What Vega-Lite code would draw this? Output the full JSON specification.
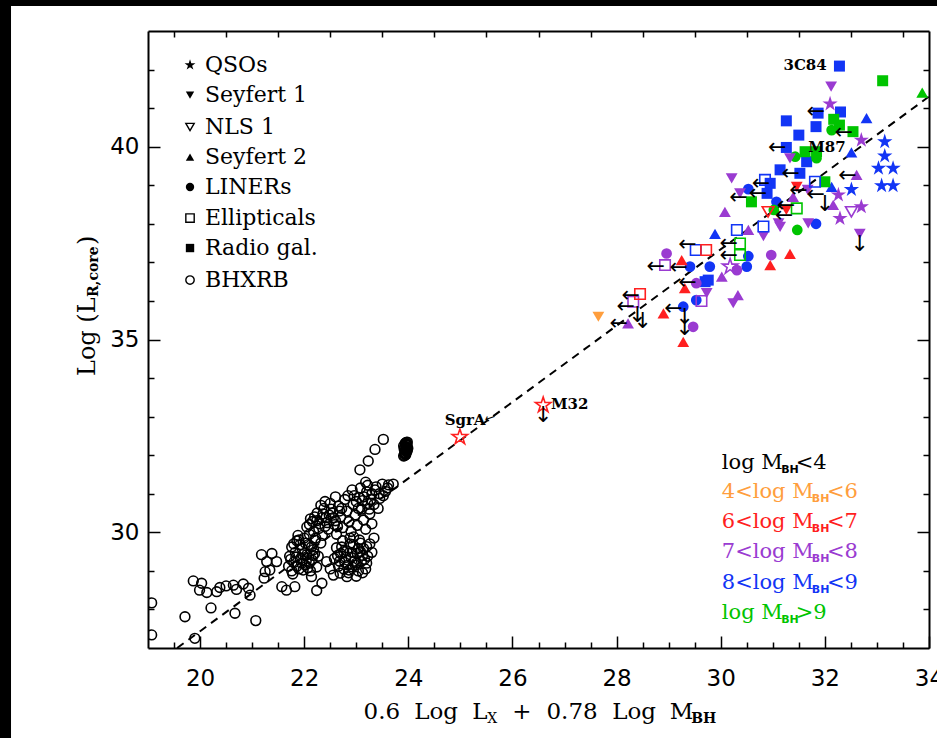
{
"$schema":"https://vega.github.io/schema/vega-lite/v6.json",
"width":781,"height":617,
"autosize":{"type":"none"},
"padding":{"left":148,"top":31,"right":8,"bottom":90},
"background":"#000000",
"config":{
 "view":{"stroke":null},
 "axis":{"grid":false,"domainColor":"#000000","domainWidth":2,"tickColor":"#000000","tickWidth":1.5,"labelFont":"DejaVu Sans","labelFontSize":23,"labelColor":"#000000","title":null,"labelFlush":false,"labelOverlap":false}
},
"datasets":{
 "fit":[{"x":19.56,"y":27.0},{"x":34.0,"y":41.30}],
 "bh":[
  {"x":19.07,"y":28.17},{"x":19.07,"y":27.34},{"x":19.71,"y":27.81},{"x":19.90,"y":27.25},{"x":19.87,"y":28.74},{"x":20.03,"y":28.68},{"x":19.99,"y":28.50},{"x":20.13,"y":28.44},{"x":20.21,"y":28.04},{"x":20.32,"y":28.46},{"x":20.38,"y":28.57},{"x":20.50,"y":28.61},{"x":20.64,"y":28.63},{"x":20.70,"y":28.52},{"x":20.83,"y":28.66},{"x":20.93,"y":28.55},{"x":20.96,"y":28.37},{"x":20.67,"y":27.90},{"x":21.07,"y":27.71},
  {"x":21.18,"y":29.42},{"x":21.38,"y":29.45},{"x":21.28,"y":29.24},{"x":21.25,"y":28.98},{"x":21.23,"y":28.81},{"x":21.34,"y":29.02},{"x":21.47,"y":29.24},{"x":21.57,"y":28.59},{"x":21.66,"y":28.50},{"x":21.82,"y":28.59},
  {"x":21.70,"y":29.12},{"x":21.72,"y":29.38},{"x":21.76,"y":29.62},{"x":21.80,"y":29.22},{"x":21.83,"y":29.48},{"x":21.86,"y":29.78},{"x":21.90,"y":29.05},{"x":21.93,"y":29.32},{"x":21.96,"y":29.58},{"x":22.00,"y":29.85},{"x":22.02,"y":29.15},{"x":22.05,"y":29.42},{"x":22.08,"y":29.68},{"x":22.12,"y":29.00},{"x":22.15,"y":29.28},{"x":22.18,"y":29.55},{"x":22.21,"y":29.80},{"x":22.24,"y":29.10},{"x":22.27,"y":29.38},{"x":21.78,"y":28.92},{"x":21.88,"y":29.92},{"x":22.10,"y":29.95},{"x":21.95,"y":29.20},{"x":22.20,"y":29.45},
  {"x":21.74,"y":29.30},{"x":21.84,"y":29.36},{"x":21.92,"y":29.68},{"x":22.04,"y":29.26},{"x":22.14,"y":29.62},{"x":21.98,"y":29.02},{"x":22.10,"y":29.20},{"x":21.80,"y":29.70},
  {"x":21.76,"y":29.00},{"x":21.86,"y":29.12},{"x":21.97,"y":29.42},{"x":22.07,"y":29.08},{"x":22.17,"y":29.40},{"x":21.90,"y":29.80},{"x":22.02,"y":29.72},
  {"x":22.14,"y":28.85},{"x":22.24,"y":28.49},{"x":22.34,"y":28.68},{"x":22.43,"y":29.24},{"x":22.56,"y":28.89},{"x":22.69,"y":28.94},{"x":22.82,"y":28.85},{"x":22.50,"y":29.05},
  {"x":22.05,"y":30.14},{"x":22.12,"y":30.35},{"x":22.18,"y":30.02},{"x":22.25,"y":30.50},{"x":22.30,"y":30.22},{"x":22.35,"y":29.92},{"x":22.38,"y":30.62},{"x":22.42,"y":30.38},{"x":22.46,"y":30.08},{"x":22.50,"y":30.75},{"x":22.55,"y":30.50},{"x":22.58,"y":30.20},{"x":22.62,"y":29.95},{"x":22.66,"y":30.68},{"x":22.70,"y":30.40},{"x":22.74,"y":30.12},{"x":22.78,"y":30.85},{"x":22.82,"y":30.55},{"x":22.86,"y":30.28},{"x":22.90,"y":30.02},{"x":22.94,"y":30.72},{"x":22.98,"y":30.45},{"x":23.02,"y":30.18},{"x":23.06,"y":30.90},{"x":23.10,"y":30.60},{"x":23.14,"y":30.32},{"x":23.18,"y":30.08},{"x":23.22,"y":30.75},{"x":23.26,"y":30.48},{"x":23.30,"y":30.22},{"x":22.32,"y":29.72},{"x":22.22,"y":29.85},{"x":22.60,"y":30.92},{"x":22.40,"y":30.80},
  {"x":22.10,"y":30.20},{"x":22.20,"y":30.40},{"x":22.28,"y":30.10},{"x":22.36,"y":30.48},{"x":22.44,"y":30.25},{"x":22.52,"y":30.60},{"x":22.60,"y":30.30},{"x":22.68,"y":30.55},{"x":22.32,"y":30.70},
  {"x":22.16,"y":30.28},{"x":22.24,"y":30.30},{"x":22.40,"y":30.15},{"x":22.48,"y":30.45},{"x":22.56,"y":30.38},{"x":22.64,"y":30.15},{"x":22.72,"y":30.62},{"x":22.34,"y":30.38},
  {"x":22.58,"y":29.32},{"x":22.62,"y":29.60},{"x":22.66,"y":29.12},{"x":22.70,"y":29.45},{"x":22.74,"y":29.78},{"x":22.78,"y":29.22},{"x":22.82,"y":29.52},{"x":22.86,"y":29.02},{"x":22.90,"y":29.35},{"x":22.94,"y":29.68},{"x":22.98,"y":29.15},{"x":23.02,"y":29.45},{"x":23.06,"y":29.80},{"x":23.10,"y":29.25},{"x":23.14,"y":29.58},{"x":23.18,"y":29.05},{"x":23.22,"y":29.38},{"x":23.26,"y":29.70},{"x":23.30,"y":29.48},{"x":22.85,"y":28.95},{"x":23.00,"y":28.86},{"x":23.20,"y":29.63},{"x":22.95,"y":29.88},{"x":23.12,"y":28.95},{"x":23.34,"y":29.85},
  {"x":22.64,"y":29.40},{"x":22.72,"y":29.62},{"x":22.80,"y":29.35},{"x":22.88,"y":29.70},{"x":22.96,"y":29.25},{"x":23.04,"y":29.58},{"x":23.12,"y":29.40},{"x":23.20,"y":29.20},{"x":22.76,"y":29.05},{"x":23.08,"y":29.72},{"x":22.92,"y":29.10},
  {"x":22.68,"y":29.25},{"x":22.76,"y":29.50},{"x":22.84,"y":29.15},{"x":22.92,"y":29.48},{"x":23.00,"y":29.20},{"x":23.08,"y":29.50},{"x":23.16,"y":29.30},{"x":22.88,"y":29.85},{"x":23.04,"y":29.00},
  {"x":22.84,"y":30.95},{"x":22.92,"y":31.10},{"x":23.00,"y":30.80},{"x":23.08,"y":31.15},{"x":23.15,"y":30.92},{"x":23.22,"y":31.22},{"x":23.30,"y":31.00},{"x":23.38,"y":31.18},{"x":23.45,"y":30.88},{"x":23.50,"y":31.25},{"x":23.56,"y":31.06},{"x":23.62,"y":31.23},{"x":23.71,"y":31.25},{"x":23.34,"y":30.72},{"x":23.42,"y":30.62},{"x":23.25,"y":30.60},{"x":23.52,"y":30.95},{"x":23.18,"y":31.30},
  {"x":22.96,"y":30.95},{"x":23.04,"y":30.62},{"x":23.12,"y":30.82},{"x":23.20,"y":31.05},{"x":23.28,"y":30.85},{"x":23.36,"y":31.10},{"x":23.44,"y":31.00},{"x":23.60,"y":31.15},
  {"x":23.07,"y":31.62},{"x":23.23,"y":31.85},{"x":23.36,"y":32.15},{"x":23.52,"y":32.41},
  {"x":23.91,"y":31.98},{"x":23.93,"y":32.05},{"x":23.95,"y":32.12},{"x":23.96,"y":32.20},{"x":23.97,"y":32.27},{"x":23.98,"y":32.34},{"x":23.92,"y":32.16},{"x":23.97,"y":32.09},{"x":23.94,"y":32.31},{"x":23.95,"y":32.01},{"x":23.91,"y":32.24},{"x":23.99,"y":32.18},
  {"x":23.93,"y":31.99},{"x":23.94,"y":32.03},{"x":23.94,"y":32.07},{"x":23.95,"y":32.10},{"x":23.95,"y":32.14},{"x":23.96,"y":32.17},{"x":23.96,"y":32.22},{"x":23.97,"y":32.25},{"x":23.97,"y":32.29},{"x":23.96,"y":32.33},{"x":23.93,"y":32.20},{"x":23.98,"y":32.13}
 ],
 "agn":[
  {"x":32.28,"y":42.09,"t":"Radio gal.","m":"8-9"},{"x":32.30,"y":40.90,"t":"Radio gal.","m":"8-9"},{"x":31.87,"y":40.87,"t":"Radio gal.","m":"8-9"},{"x":31.83,"y":40.52,"t":"Radio gal.","m":"8-9"},{"x":31.26,"y":40.67,"t":"Radio gal.","m":"8-9"},{"x":31.50,"y":40.30,"t":"Radio gal.","m":"8-9"},{"x":31.26,"y":39.98,"t":"Radio gal.","m":"8-9"},{"x":31.65,"y":39.61,"t":"Radio gal.","m":"8-9"},{"x":31.14,"y":39.40,"t":"Radio gal.","m":"8-9"},{"x":31.52,"y":39.31,"t":"Radio gal.","m":"8-9"},{"x":30.95,"y":39.05,"t":"Radio gal.","m":"8-9"},{"x":30.89,"y":38.79,"t":"Radio gal.","m":"8-9"},{"x":29.70,"y":36.50,"t":"Radio gal.","m":"8-9"},{"x":29.76,"y":36.54,"t":"Radio gal.","m":"8-9"},
  {"x":32.80,"y":40.74,"t":"Seyfert 2","m":"8-9"},{"x":32.51,"y":39.85,"t":"Seyfert 2","m":"8-9"},{"x":32.13,"y":38.96,"t":"Seyfert 2","m":"8-9"},{"x":29.89,"y":37.74,"t":"Seyfert 2","m":"8-9"},
  {"x":33.15,"y":40.13,"t":"QSOs","m":"8-9"},{"x":33.15,"y":39.76,"t":"QSOs","m":"8-9"},{"x":33.03,"y":39.44,"t":"QSOs","m":"8-9"},{"x":33.31,"y":39.44,"t":"QSOs","m":"8-9"},{"x":33.09,"y":38.99,"t":"QSOs","m":"8-9"},{"x":33.31,"y":38.99,"t":"QSOs","m":"8-9"},{"x":32.51,"y":38.89,"t":"QSOs","m":"8-9"},
  {"x":31.81,"y":39.09,"t":"Ellipticals","m":"8-9"},{"x":30.85,"y":39.14,"t":"Ellipticals","m":"8-9"},{"x":30.82,"y":37.93,"t":"Ellipticals","m":"8-9"},{"x":30.31,"y":37.84,"t":"Ellipticals","m":"8-9"},{"x":29.52,"y":37.32,"t":"Ellipticals","m":"8-9"},
  {"x":30.53,"y":38.90,"t":"LINERs","m":"8-9"},{"x":31.07,"y":38.57,"t":"LINERs","m":"8-9"},{"x":31.83,"y":38.00,"t":"LINERs","m":"8-9"},{"x":30.53,"y":37.16,"t":"LINERs","m":"8-9"},{"x":30.50,"y":36.89,"t":"LINERs","m":"8-9"},{"x":29.41,"y":36.89,"t":"LINERs","m":"8-9"},{"x":29.79,"y":36.89,"t":"LINERs","m":"8-9"},{"x":29.53,"y":36.02,"t":"LINERs","m":"8-9"},{"x":29.28,"y":35.85,"t":"LINERs","m":"8-9"},
  {"x":33.11,"y":41.71,"t":"Radio gal.","m":"gt9"},{"x":33.87,"y":41.40,"t":"Seyfert 2","m":"gt9"},{"x":32.17,"y":40.71,"t":"Radio gal.","m":"gt9"},{"x":32.28,"y":40.56,"t":"Radio gal.","m":"gt9"},{"x":32.13,"y":40.43,"t":"LINERs","m":"gt9"},{"x":32.54,"y":40.39,"t":"Radio gal.","m":"gt9"},{"x":31.62,"y":39.87,"t":"Radio gal.","m":"gt9"},{"x":31.84,"y":39.87,"t":"Radio gal.","m":"gt9"},{"x":31.43,"y":39.74,"t":"LINERs","m":"gt9"},{"x":31.84,"y":39.70,"t":"LINERs","m":"gt9"},{"x":32.00,"y":39.09,"t":"Radio gal.","m":"gt9"},{"x":30.59,"y":38.57,"t":"Radio gal.","m":"gt9"},{"x":31.02,"y":38.36,"t":"LINERs","m":"gt9"},{"x":31.46,"y":38.40,"t":"Ellipticals","m":"gt9"},{"x":31.47,"y":37.84,"t":"LINERs","m":"gt9"},{"x":30.37,"y":37.49,"t":"Ellipticals","m":"gt9"},{"x":30.37,"y":37.19,"t":"Ellipticals","m":"gt9"},
  {"x":32.12,"y":41.56,"t":"Seyfert 1","m":"7-8"},{"x":32.10,"y":41.11,"t":"QSOs","m":"7-8"},{"x":32.70,"y":40.17,"t":"QSOs","m":"7-8"},{"x":31.33,"y":39.70,"t":"Seyfert 1","m":"7-8"},{"x":32.61,"y":39.27,"t":"Seyfert 2","m":"7-8"},{"x":30.21,"y":39.18,"t":"Seyfert 1","m":"7-8"},{"x":30.37,"y":38.79,"t":"Seyfert 1","m":"7-8"},{"x":30.08,"y":38.31,"t":"Seyfert 2","m":"7-8"},{"x":31.39,"y":38.70,"t":"Seyfert 2","m":"7-8"},{"x":31.67,"y":38.88,"t":"Seyfert 1","m":"7-8"},{"x":32.26,"y":38.75,"t":"QSOs","m":"7-8"},{"x":32.29,"y":38.14,"t":"QSOs","m":"7-8"},{"x":32.70,"y":38.44,"t":"QSOs","m":"7-8"},{"x":32.51,"y":38.31,"t":"NLS 1","m":"7-8"},{"x":32.16,"y":38.49,"t":"Seyfert 2","m":"7-8"},{"x":31.68,"y":38.01,"t":"Seyfert 1","m":"7-8"},{"x":31.11,"y":38.01,"t":"Seyfert 1","m":"7-8"},{"x":32.67,"y":37.74,"t":"Seyfert 1","m":"7-8"},{"x":30.82,"y":37.68,"t":"Seyfert 1","m":"7-8"},{"x":30.53,"y":37.84,"t":"Seyfert 2","m":"7-8"},{"x":31.14,"y":37.92,"t":"Seyfert 1","m":"7-8"},{"x":30.97,"y":37.19,"t":"LINERs","m":"7-8"},{"x":30.18,"y":36.89,"t":"Other","m":"7-8"},{"x":30.31,"y":36.80,"t":"LINERs","m":"7-8"},{"x":28.96,"y":37.23,"t":"LINERs","m":"7-8"},{"x":28.93,"y":36.93,"t":"Ellipticals","m":"7-8"},{"x":30.02,"y":36.63,"t":"Seyfert 2","m":"7-8"},{"x":29.53,"y":36.46,"t":"LINERs","m":"7-8"},{"x":29.73,"y":36.20,"t":"Seyfert 1","m":"7-8"},{"x":30.33,"y":36.15,"t":"Seyfert 2","m":"7-8"},{"x":30.24,"y":35.94,"t":"Seyfert 1","m":"7-8"},{"x":29.63,"y":36.00,"t":"Ellipticals","m":"7-8"},{"x":28.32,"y":35.98,"t":"Ellipticals","m":"7-8"},{"x":28.22,"y":35.42,"t":"Seyfert 2","m":"7-8"},{"x":29.47,"y":35.33,"t":"LINERs","m":"7-8"},
  {"x":31.26,"y":38.36,"t":"Seyfert 1","m":"6-7"},{"x":31.46,"y":38.96,"t":"Seyfert 1","m":"6-7"},{"x":30.91,"y":38.31,"t":"NLS 1","m":"6-7"},{"x":31.33,"y":37.22,"t":"Seyfert 2","m":"6-7"},{"x":30.95,"y":36.93,"t":"Seyfert 2","m":"6-7"},{"x":29.72,"y":37.32,"t":"Ellipticals","m":"6-7"},{"x":29.25,"y":37.06,"t":"Seyfert 2","m":"6-7"},{"x":29.31,"y":36.33,"t":"Seyfert 2","m":"6-7"},{"x":28.45,"y":36.18,"t":"Ellipticals","m":"6-7"},{"x":28.90,"y":35.68,"t":"Seyfert 2","m":"6-7"},{"x":29.28,"y":34.94,"t":"Seyfert 2","m":"6-7"},{"x":24.99,"y":32.47,"t":"Other","m":"6-7"},{"x":26.59,"y":33.30,"t":"Other","m":"6-7"},
  {"x":27.65,"y":35.59,"t":"Seyfert 1","m":"4-6"}
 ],
 "arr":[
  {"x":32.00,"y":40.93},{"x":32.54,"y":40.39},{"x":31.26,"y":39.98},{"x":31.52,"y":39.31},{"x":32.61,"y":39.27},{"x":30.95,"y":39.07},{"x":30.89,"y":38.79},{"x":30.52,"y":38.70},{"x":31.67,"y":38.88},{"x":32.00,"y":38.77},{"x":31.43,"y":38.49},{"x":31.39,"y":38.23},{"x":30.33,"y":37.49},{"x":30.33,"y":37.20},{"x":29.54,"y":37.47},{"x":28.93,"y":36.91},{"x":29.37,"y":36.88},{"x":29.54,"y":36.50},{"x":28.45,"y":36.15},{"x":28.35,"y":35.88},{"x":28.22,"y":35.42},{"x":29.27,"y":35.81}
 ],
 "dn":[
  {"x":32.67,"y":37.74},{"x":32.00,"y":38.77},{"x":28.40,"y":35.90},{"x":28.50,"y":35.75},{"x":29.31,"y":35.85},{"x":29.31,"y":35.55},{"x":26.59,"y":33.30}
 ]
},
"resolve":{"axis":{"x":"independent","y":"independent"}},
"layer":[
 {"data":{"values":[{}]},"mark":{"type":"rect","color":"#ffffff","clip":false},
  "encoding":{"x":{"datum":16.369,"type":"quantitative","scale":{"domain":[19,34],"nice":false,"zero":false},"axis":null},"x2":{"datum":35.5},"y":{"datum":43.648,"type":"quantitative","scale":{"domain":[27,43],"nice":false,"zero":false},"axis":null},"y2":{"datum":24.0}}},
 {"layer":[
  {"data":{"name":"fit"},"mark":{"type":"line","color":"#000000","strokeWidth":2,"strokeDash":[8,6]},
   "encoding":{
    "x":{"field":"x","type":"quantitative","scale":{"domain":[19,34],"nice":false,"zero":false},
     "axis":{"orient":"top","zindex":2,"values":[19.5,20,20.5,21,21.5,22,22.5,23,23.5,24,24.5,25,25.5,26,26.5,27,27.5,28,28.5,29,29.5,30,30.5,31,31.5,32,32.5,33,33.5],
      "tickSize":{"condition":{"test":"datum.value % 2 === 0","value":-12},"value":-6},"labels":false}},
    "y":{"field":"y","type":"quantitative","scale":{"domain":[27,43],"nice":false,"zero":false},
     "axis":{"orient":"left","zindex":2,"values":[28,29,30,31,32,33,34,35,36,37,38,39,40,41,42],
      "tickSize":{"condition":{"test":"datum.value % 5 === 0","value":-12},"value":-6},
      "labelExpr":"datum.value % 5 === 0 ? datum.label : ''","labelPadding":21}}}},
  {"data":{"name":"bh"},"mark":{"type":"point","shape":"circle","filled":false,"color":"#000000","size":95,"strokeWidth":1.6,"opacity":1,"clip":true},
   "encoding":{"x":{"field":"x","type":"quantitative"},"y":{"field":"y","type":"quantitative"}}},
  {"data":{"name":"agn"},"transform":[{"filter":{"not":{"field":"t","oneOf":["NLS 1","Ellipticals","Other"]}}}],
   "mark":{"type":"point","filled":true,"opacity":1},
   "encoding":{"x":{"field":"x","type":"quantitative"},"y":{"field":"y","type":"quantitative"},
    "shape":{"field":"t","type":"nominal","scale":{"domain":["QSOs","Seyfert 1","NLS 1","Seyfert 2","LINERs","Ellipticals","Radio gal.","BHXRB","Other"],"range":["M0,-1L0.2245,-0.309L0.9511,-0.309L0.3633,0.118L0.5878,0.809L0,0.382L-0.5878,0.809L-0.3633,0.118L-0.9511,-0.309L-0.2245,-0.309Z","triangle-down","triangle-down","triangle-up","circle","square","square","circle","M0,-1L0.2245,-0.309L0.9511,-0.309L0.3633,0.118L0.5878,0.809L0,0.382L-0.5878,0.809L-0.3633,0.118L-0.9511,-0.309L-0.2245,-0.309Z"]},"legend":null},
    "size":{"field":"t","type":"nominal","scale":{"type":"ordinal","domain":["QSOs","Seyfert 1","NLS 1","Seyfert 2","LINERs","Ellipticals","Radio gal.","BHXRB","Other"],"range":[260,140,140,140,115,110,121,88,260]},"legend":null},
    "color":{"field":"m","type":"nominal","scale":{"domain":["lt4","4-6","6-7","7-8","8-9","gt9"],"range":["#000000","#FF9E3D","#FF1F1F","#9A3BD1","#1235F5","#00C400"]},"legend":null}}},
  {"data":{"name":"agn"},"transform":[{"filter":{"field":"t","oneOf":["NLS 1","Ellipticals","Other"]}}],
   "mark":{"type":"point","filled":false,"opacity":1,"strokeWidth":1.6},
   "encoding":{"x":{"field":"x","type":"quantitative"},"y":{"field":"y","type":"quantitative"},
    "shape":{"field":"t","type":"nominal","scale":{"domain":["QSOs","Seyfert 1","NLS 1","Seyfert 2","LINERs","Ellipticals","Radio gal.","BHXRB","Other"],"range":["M0,-1L0.2245,-0.309L0.9511,-0.309L0.3633,0.118L0.5878,0.809L0,0.382L-0.5878,0.809L-0.3633,0.118L-0.9511,-0.309L-0.2245,-0.309Z","triangle-down","triangle-down","triangle-up","circle","square","square","circle","M0,-1L0.2245,-0.309L0.9511,-0.309L0.3633,0.118L0.5878,0.809L0,0.382L-0.5878,0.809L-0.3633,0.118L-0.9511,-0.309L-0.2245,-0.309Z"]},"legend":null},
    "size":{"field":"t","type":"nominal","scale":{"type":"ordinal","domain":["QSOs","Seyfert 1","NLS 1","Seyfert 2","LINERs","Ellipticals","Radio gal.","BHXRB","Other"],"range":[260,140,140,140,115,110,121,88,260]},"legend":null},
    "color":{"field":"m","type":"nominal","scale":{"domain":["lt4","4-6","6-7","7-8","8-9","gt9"],"range":["#000000","#FF9E3D","#FF1F1F","#9A3BD1","#1235F5","#00C400"]},"legend":null}}},
  {"data":{"name":"arr"},"mark":{"type":"text","text":"←","font":"DejaVu Sans","fontSize":22,"align":"right","baseline":"middle","color":"#000000"},
   "encoding":{"x":{"field":"x","type":"quantitative"},"y":{"field":"y","type":"quantitative"}}},
  {"data":{"name":"dn"},"mark":{"type":"text","text":"↓","font":"DejaVu Sans","fontSize":22,"align":"center","baseline":"top","color":"#000000"},
   "encoding":{"x":{"field":"x","type":"quantitative"},"y":{"field":"y","type":"quantitative"}}},
  {"data":{"values":[{}]},"layer":[
   {"mark":{"type":"point","shape":"M0,-1L0.2245,-0.309L0.9511,-0.309L0.3633,0.118L0.5878,0.809L0,0.382L-0.5878,0.809L-0.3633,0.118L-0.9511,-0.309L-0.2245,-0.309Z","filled":true,"size":130,"color":"#000000","opacity":1},"encoding":{"x":{"datum":19.807},"y":{"datum":42.118}}},
   {"mark":{"type":"point","shape":"triangle-down","filled":true,"size":70,"color":"#000000","opacity":1},"encoding":{"x":{"datum":19.807},"y":{"datum":41.34}}},
   {"mark":{"type":"point","shape":"triangle-down","filled":false,"strokeWidth":1.4,"size":70,"color":"#000000","opacity":1},"encoding":{"x":{"datum":19.807},"y":{"datum":40.51}}},
   {"mark":{"type":"point","shape":"triangle-up","filled":true,"size":70,"color":"#000000","opacity":1},"encoding":{"x":{"datum":19.807},"y":{"datum":39.732}}},
   {"mark":{"type":"point","shape":"circle","filled":true,"size":70,"color":"#000000","opacity":1},"encoding":{"x":{"datum":19.807},"y":{"datum":38.954}}},
   {"mark":{"type":"point","shape":"square","filled":false,"strokeWidth":1.4,"size":70,"color":"#000000","opacity":1},"encoding":{"x":{"datum":19.807},"y":{"datum":38.15}}},
   {"mark":{"type":"point","shape":"square","filled":true,"size":70,"color":"#000000","opacity":1},"encoding":{"x":{"datum":19.807},"y":{"datum":37.372}}},
   {"mark":{"type":"point","shape":"circle","filled":false,"strokeWidth":1.4,"size":70,"color":"#000000","opacity":1},"encoding":{"x":{"datum":19.807},"y":{"datum":36.542}}},
   {"mark":{"type":"text","font":"DejaVu Serif","fontSize":22,"align":"left","baseline":"middle","color":"#000000"},"encoding":{"x":{"datum":20.095},"y":{"datum":42.118},"text":{"value":"QSOs"}}},
   {"mark":{"type":"text","font":"DejaVu Serif","fontSize":22,"align":"left","baseline":"middle","color":"#000000"},"encoding":{"x":{"datum":20.095},"y":{"datum":41.34},"text":{"value":"Seyfert 1"}}},
   {"mark":{"type":"text","font":"DejaVu Serif","fontSize":22,"align":"left","baseline":"middle","color":"#000000"},"encoding":{"x":{"datum":20.095},"y":{"datum":40.51},"text":{"value":"NLS 1"}}},
   {"mark":{"type":"text","font":"DejaVu Serif","fontSize":22,"align":"left","baseline":"middle","color":"#000000"},"encoding":{"x":{"datum":20.095},"y":{"datum":39.732},"text":{"value":"Seyfert 2"}}},
   {"mark":{"type":"text","font":"DejaVu Serif","fontSize":22,"align":"left","baseline":"middle","color":"#000000"},"encoding":{"x":{"datum":20.095},"y":{"datum":38.954},"text":{"value":"LINERs"}}},
   {"mark":{"type":"text","font":"DejaVu Serif","fontSize":22,"align":"left","baseline":"middle","color":"#000000"},"encoding":{"x":{"datum":20.095},"y":{"datum":38.15},"text":{"value":"Ellipticals"}}},
   {"mark":{"type":"text","font":"DejaVu Serif","fontSize":22,"align":"left","baseline":"middle","color":"#000000"},"encoding":{"x":{"datum":20.095},"y":{"datum":37.372},"text":{"value":"Radio gal."}}},
   {"mark":{"type":"text","font":"DejaVu Serif","fontSize":22,"align":"left","baseline":"middle","color":"#000000"},"encoding":{"x":{"datum":20.095},"y":{"datum":36.542},"text":{"value":"BHXRB"}}}
  ]},
  {"data":{"values":[{}]},"layer":[
   {"mark":{"type":"text","font":"DejaVu Serif","fontSize":15,"fontWeight":"bold","align":"center","baseline":"middle","color":"#000000"},"encoding":{"x":{"datum":31.62},"y":{"datum":42.12},"text":{"value":"3C84"}}},
   {"mark":{"type":"text","font":"DejaVu Serif","fontSize":15,"fontWeight":"bold","align":"center","baseline":"middle","color":"#000000"},"encoding":{"x":{"datum":32.04},"y":{"datum":39.99},"text":{"value":"M87"}}},
   {"mark":{"type":"text","font":"DejaVu Serif","fontSize":15,"fontWeight":"bold","align":"center","baseline":"middle","color":"#000000"},"encoding":{"x":{"datum":25.09},"y":{"datum":32.91},"text":{"value":"SgrA"}}},
   {"mark":{"type":"text","font":"DejaVu Sans","fontSize":13,"angle":-20,"align":"center","baseline":"middle","color":"#000000"},"encoding":{"x":{"datum":25.57},"y":{"datum":32.96},"text":{"value":"←"}}},
   {"mark":{"type":"text","font":"DejaVu Serif","fontSize":15,"fontWeight":"bold","align":"center","baseline":"middle","color":"#000000"},"encoding":{"x":{"datum":27.10},"y":{"datum":33.33},"text":{"value":"M32"}}},
   {"mark":{"type":"text","font":"DejaVu Serif","fontSize":23,"align":"center","baseline":"middle","color":"#000000"},"encoding":{"x":{"datum":23.49},"y":{"datum":25.34},"text":{"value":"0.6"}}},
   {"mark":{"type":"text","font":"DejaVu Serif","fontSize":23,"align":"center","baseline":"middle","color":"#000000"},"encoding":{"x":{"datum":24.533},"y":{"datum":25.34},"text":{"value":"Log"}}},
   {"mark":{"type":"text","font":"DejaVu Serif","fontSize":23,"align":"center","baseline":"middle","color":"#000000"},"encoding":{"x":{"datum":25.376},"y":{"datum":25.34},"text":{"value":"L"}}},
   {"mark":{"type":"text","font":"DejaVu Serif","fontSize":14,"align":"center","baseline":"middle","dy":7,"color":"#000000"},"encoding":{"x":{"datum":25.612},"y":{"datum":25.34},"text":{"value":"X"}}},
   {"mark":{"type":"text","font":"DejaVu Serif","fontSize":23,"align":"center","baseline":"middle","color":"#000000"},"encoding":{"x":{"datum":26.183},"y":{"datum":25.34},"text":{"value":"+"}}},
   {"mark":{"type":"text","font":"DejaVu Serif","fontSize":23,"align":"center","baseline":"middle","color":"#000000"},"encoding":{"x":{"datum":27.145},"y":{"datum":25.34},"text":{"value":"0.78"}}},
   {"mark":{"type":"text","font":"DejaVu Serif","fontSize":23,"align":"center","baseline":"middle","color":"#000000"},"encoding":{"x":{"datum":28.336},"y":{"datum":25.34},"text":{"value":"Log"}}},
   {"mark":{"type":"text","font":"DejaVu Serif","fontSize":23,"align":"center","baseline":"middle","color":"#000000"},"encoding":{"x":{"datum":29.246},"y":{"datum":25.34},"text":{"value":"M"}}},
   {"mark":{"type":"text","font":"DejaVu Serif","fontSize":14,"fontWeight":"bold","align":"center","baseline":"middle","dy":7,"color":"#000000"},"encoding":{"x":{"datum":29.675},"y":{"datum":25.34},"text":{"value":"BH"}}},
   {"mark":{"type":"text","font":"DejaVu Serif","fontSize":24,"align":"left","baseline":"middle","angle":270,"color":"#000000"},"encoding":{"x":{"datum":17.848},"y":{"datum":34.053},"text":{"value":"Log (L"}}},
   {"mark":{"type":"text","font":"DejaVu Serif","fontSize":14,"fontWeight":"bold","align":"left","baseline":"middle","angle":270,"color":"#000000"},"encoding":{"x":{"datum":17.965},"y":{"datum":36.10},"text":{"value":"R,core"}}},
   {"mark":{"type":"text","font":"DejaVu Serif","fontSize":24,"align":"left","baseline":"middle","angle":270,"color":"#000000"},"encoding":{"x":{"datum":17.848},"y":{"datum":37.45},"text":{"value":")"}}}
  ]},
  {"data":{"values":[{}]},"encoding":{"y":{"datum":31.80}},"layer":[
   {"mark":{"type":"text","font":"DejaVu Serif","fontSize":21,"align":"left","baseline":"middle","color":"#000000"},"encoding":{"x":{"datum":30.02},"text":{"value":"log M"}}},
   {"mark":{"type":"text","font":"DejaVu Sans","fontSize":11,"fontWeight":"bold","align":"left","baseline":"middle","dy":7,"color":"#000000"},"encoding":{"x":{"datum":31.16},"text":{"value":"BH"}}},
   {"mark":{"type":"text","font":"DejaVu Serif","fontSize":21,"align":"left","baseline":"middle","color":"#000000"},"encoding":{"x":{"datum":31.44},"text":{"value":"<4"}}}]},
  {"data":{"values":[{}]},"encoding":{"y":{"datum":31.04}},"layer":[
   {"mark":{"type":"text","font":"DejaVu Serif","fontSize":21,"align":"left","baseline":"middle","color":"#FF9E3D"},"encoding":{"x":{"datum":30.02},"text":{"value":"4<log M"}}},
   {"mark":{"type":"text","font":"DejaVu Sans","fontSize":11,"fontWeight":"bold","align":"left","baseline":"middle","dy":7,"color":"#FF9E3D"},"encoding":{"x":{"datum":31.75},"text":{"value":"BH"}}},
   {"mark":{"type":"text","font":"DejaVu Serif","fontSize":21,"align":"left","baseline":"middle","color":"#FF9E3D"},"encoding":{"x":{"datum":32.04},"text":{"value":"<6"}}}]},
  {"data":{"values":[{}]},"encoding":{"y":{"datum":30.27}},"layer":[
   {"mark":{"type":"text","font":"DejaVu Serif","fontSize":21,"align":"left","baseline":"middle","color":"#FF1F1F"},"encoding":{"x":{"datum":30.02},"text":{"value":"6<log M"}}},
   {"mark":{"type":"text","font":"DejaVu Sans","fontSize":11,"fontWeight":"bold","align":"left","baseline":"middle","dy":7,"color":"#FF1F1F"},"encoding":{"x":{"datum":31.75},"text":{"value":"BH"}}},
   {"mark":{"type":"text","font":"DejaVu Serif","fontSize":21,"align":"left","baseline":"middle","color":"#FF1F1F"},"encoding":{"x":{"datum":32.04},"text":{"value":"<7"}}}]},
  {"data":{"values":[{}]},"encoding":{"y":{"datum":29.49}},"layer":[
   {"mark":{"type":"text","font":"DejaVu Serif","fontSize":21,"align":"left","baseline":"middle","color":"#9A3BD1"},"encoding":{"x":{"datum":30.02},"text":{"value":"7<log M"}}},
   {"mark":{"type":"text","font":"DejaVu Sans","fontSize":11,"fontWeight":"bold","align":"left","baseline":"middle","dy":7,"color":"#9A3BD1"},"encoding":{"x":{"datum":31.75},"text":{"value":"BH"}}},
   {"mark":{"type":"text","font":"DejaVu Serif","fontSize":21,"align":"left","baseline":"middle","color":"#9A3BD1"},"encoding":{"x":{"datum":32.04},"text":{"value":"<8"}}}]},
  {"data":{"values":[{}]},"encoding":{"y":{"datum":28.68}},"layer":[
   {"mark":{"type":"text","font":"DejaVu Serif","fontSize":21,"align":"left","baseline":"middle","color":"#1235F5"},"encoding":{"x":{"datum":30.02},"text":{"value":"8<log M"}}},
   {"mark":{"type":"text","font":"DejaVu Sans","fontSize":11,"fontWeight":"bold","align":"left","baseline":"middle","dy":7,"color":"#1235F5"},"encoding":{"x":{"datum":31.75},"text":{"value":"BH"}}},
   {"mark":{"type":"text","font":"DejaVu Serif","fontSize":21,"align":"left","baseline":"middle","color":"#1235F5"},"encoding":{"x":{"datum":32.04},"text":{"value":"<9"}}}]},
  {"data":{"values":[{}]},"encoding":{"y":{"datum":27.91}},"layer":[
   {"mark":{"type":"text","font":"DejaVu Serif","fontSize":21,"align":"left","baseline":"middle","color":"#00C400"},"encoding":{"x":{"datum":30.02},"text":{"value":"log M"}}},
   {"mark":{"type":"text","font":"DejaVu Sans","fontSize":11,"fontWeight":"bold","align":"left","baseline":"middle","dy":7,"color":"#00C400"},"encoding":{"x":{"datum":31.16},"text":{"value":"BH"}}},
   {"mark":{"type":"text","font":"DejaVu Serif","fontSize":21,"align":"left","baseline":"middle","color":"#00C400"},"encoding":{"x":{"datum":31.44},"text":{"value":">9"}}}]}
 ]},
 {"data":{"name":"fit"},"mark":{"type":"point","opacity":0},
  "encoding":{
   "x":{"field":"x","type":"quantitative","scale":{"domain":[19,34],"nice":false,"zero":false},
    "axis":{"orient":"bottom","zindex":2,"values":[19.5,20,20.5,21,21.5,22,22.5,23,23.5,24,24.5,25,25.5,26,26.5,27,27.5,28,28.5,29,29.5,30,30.5,31,31.5,32,32.5,33,33.5,34],
     "tickSize":{"condition":{"test":"datum.value % 2 === 0","value":-12},"value":-6},
     "labelExpr":"datum.value % 2 === 0 ? format(datum.value, 'd') : ''","labelPadding":31}},
   "y":{"field":"y","type":"quantitative","scale":{"domain":[27,43],"nice":false,"zero":false},
    "axis":{"orient":"right","zindex":2,"values":[28,29,30,31,32,33,34,35,36,37,38,39,40,41,42],
     "tickSize":{"condition":{"test":"datum.value % 5 === 0","value":-12},"value":-6},"labels":false}}}}
]
}
